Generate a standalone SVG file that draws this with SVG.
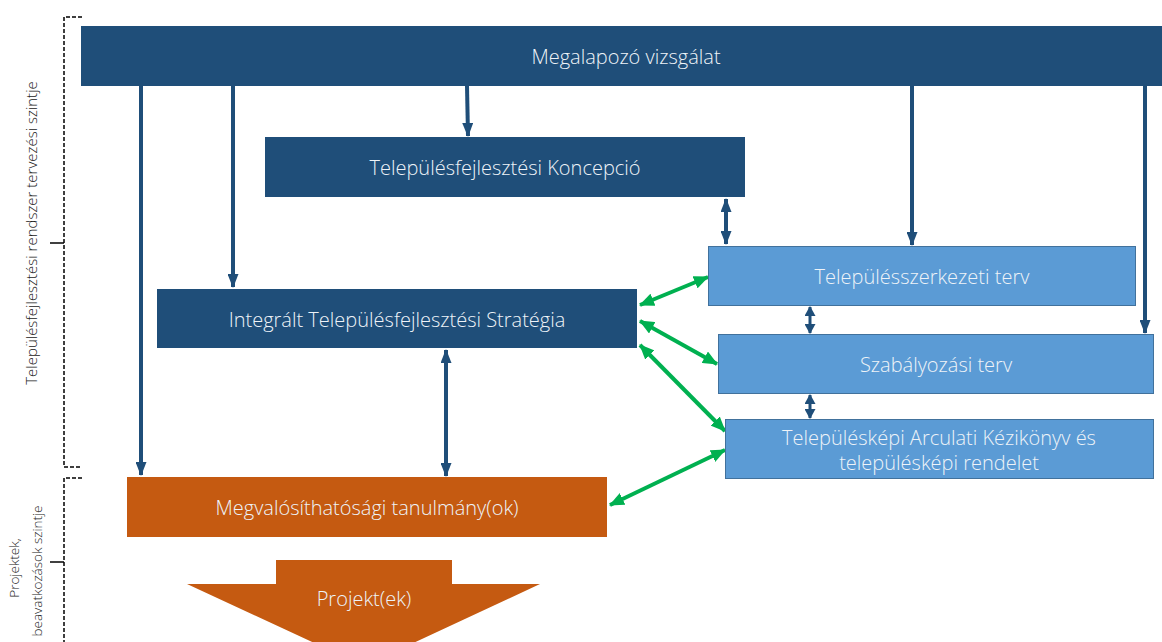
<svg xmlns="http://www.w3.org/2000/svg" width="1162" height="642" viewBox="0 0 1162 642">
<style>
.dark{fill:#1f4e79;}
.light{fill:#5b9bd5;stroke:#41719c;stroke-width:1;}
.orange{fill:#c55a11;}
.t{font-family:"Open Sans","Liberation Sans",sans-serif;font-weight:300;font-size:20px;fill:#eef3f8;text-anchor:middle;dominant-baseline:central;}
.side{font-family:"Open Sans","Liberation Sans",sans-serif;font-weight:300;font-size:15px;fill:#222;text-anchor:middle;}
.side2{font-family:"Open Sans","Liberation Sans",sans-serif;font-weight:300;font-size:13.5px;fill:#222;text-anchor:middle;}
.db{stroke:#1f4e79;stroke-width:4;fill:none;}
.db2{stroke:#1f4e79;stroke-width:3;fill:none;}
.gr{stroke:#00b050;stroke-width:4;fill:none;}
.br{stroke:#000;stroke-width:1.5;stroke-dasharray:4 2;fill:none;}
</style>
<defs>
<marker id="ab" viewBox="0 0 14 11" refX="13" refY="5.5" markerWidth="14" markerHeight="11" markerUnits="userSpaceOnUse" orient="auto-start-reverse"><path d="M0,0 L14,5.5 L0,11 z" fill="#1f4e79"/></marker>
<marker id="ab2" viewBox="0 0 10 11" refX="9" refY="5.5" markerWidth="10" markerHeight="11" markerUnits="userSpaceOnUse" orient="auto-start-reverse"><path d="M0,0 L10,5.5 L0,11 z" fill="#1f4e79"/></marker>
<marker id="ag" viewBox="0 0 15 13" refX="14" refY="6.5" markerWidth="15" markerHeight="13" markerUnits="userSpaceOnUse" orient="auto-start-reverse"><path d="M0,0 L15,6.5 L0,13 z" fill="#00b050"/></marker>
</defs>

<g id="brackets">
<path class="br" d="M82,17 H64 V467 H82"/>
<path d="M50,243 H64" stroke="#000" stroke-width="1.5"/>
<path class="br" d="M82,478 H64 V642"/>
<path d="M50,562 H64" stroke="#000" stroke-width="1.5"/>
<text class="side" transform="translate(37,233) rotate(-90)">Településfejlesztési rendszer tervezési szintje</text>
<text class="side2" transform="translate(19,568) rotate(-90)">Projektek,</text>
<text class="side2" transform="translate(42,571) rotate(-90)">beavatkozások szintje</text>
</g>

<g id="connectors">
<line class="db" x1="141" y1="86" x2="141" y2="475" marker-end="url(#ab)"/>
<line class="db" x1="233" y1="86" x2="233" y2="287" marker-end="url(#ab)"/>
<line class="db" x1="467" y1="86" x2="468" y2="136" marker-end="url(#ab)"/>
<line class="db" x1="912" y1="86" x2="912" y2="245" marker-end="url(#ab)"/>
<line class="db" x1="1145" y1="86" x2="1145" y2="333" marker-end="url(#ab)"/>
<line class="db" x1="726" y1="199" x2="726" y2="244" marker-start="url(#ab)" marker-end="url(#ab)"/>
<line class="db2" x1="810" y1="307" x2="810" y2="333" marker-start="url(#ab2)" marker-end="url(#ab2)"/>
<line class="db2" x1="810" y1="395" x2="810" y2="418" marker-start="url(#ab2)" marker-end="url(#ab2)"/>
<line class="db" x1="446" y1="350" x2="446" y2="476" marker-start="url(#ab)" marker-end="url(#ab)"/>
<line class="gr" x1="640" y1="305" x2="708" y2="277" marker-start="url(#ag)" marker-end="url(#ag)"/>
<line class="gr" x1="640" y1="321" x2="717" y2="364" marker-start="url(#ag)" marker-end="url(#ag)"/>
<line class="gr" x1="640" y1="345" x2="725" y2="431" marker-start="url(#ag)" marker-end="url(#ag)"/>
<line class="gr" x1="610" y1="505" x2="725" y2="450" marker-start="url(#ag)" marker-end="url(#ag)"/>
</g>

<g id="megalapozo">
<rect class="dark" x="81" y="26" width="1081" height="60"/>
<text class="t" x="626" y="56">Megalapozó vizsgálat</text>
</g>
<g id="koncepcio">
<rect class="dark" x="265" y="137" width="480" height="60"/>
<text class="t" x="505" y="167">Településfejlesztési Koncepció</text>
</g>
<g id="its">
<rect class="dark" x="157" y="289" width="480" height="59"/>
<text class="t" x="397" y="319">Integrált Településfejlesztési Stratégia</text>
</g>
<g id="szerkezeti">
<rect class="light" x="708.5" y="246.5" width="427" height="59"/>
<text class="t" x="922" y="276">Településszerkezeti terv</text>
</g>
<g id="szabalyozasi">
<rect class="light" x="718.5" y="334.5" width="435" height="59"/>
<text class="t" x="936" y="364">Szabályozási terv</text>
</g>
<g id="arculati">
<rect class="light" x="725.5" y="419.5" width="428" height="59"/>
<text class="t" x="939" y="437">Településképi Arculati Kézikönyv és</text>
<text class="t" x="939" y="462">településképi rendelet</text>
</g>
<g id="megvalosithatosagi">
<rect class="orange" x="127" y="477" width="480" height="60"/>
<text class="t" x="367" y="507">Megvalósíthatósági tanulmány(ok)</text>
</g>
<g id="projekt">
<path class="orange" d="M276,560 H452 V584 H540 L364,666 L187,584 H276 Z"/>
<text class="t" x="364" y="598">Projekt(ek)</text>
</g>
</svg>
